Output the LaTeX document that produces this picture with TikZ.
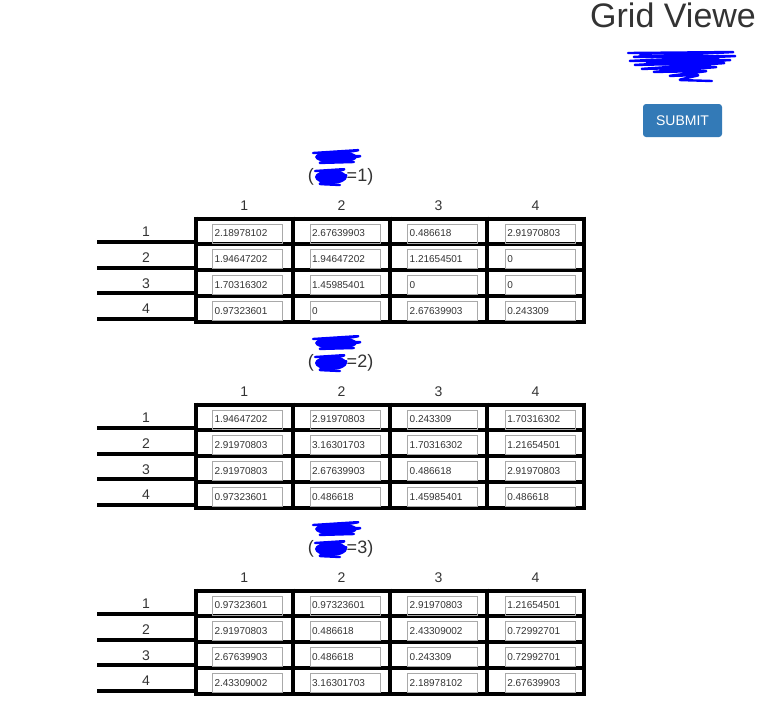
\documentclass[tikz,border=0pt]{standalone}
\usepackage{fontspec}
\setmainfont{Liberation Sans}
\usepackage{xcolor}
\usepackage{tikz}
\definecolor{txtgray}{HTML}{333333}
\definecolor{btnblue}{HTML}{337AB7}
\definecolor{boxgray}{HTML}{A9A9A9}
\tikzset{
  inbox/.style={draw=boxgray, line width=1pt, anchor=west, minimum height=19pt,
    text width=66pt, inner sep=2pt, align=left, text=txtgray,
    font=\fontsize{10}{12}\selectfont},
  lbl/.style={text=txtgray, font=\fontsize{14}{16}\selectfont},
  gridline/.style={line width=4pt},
  scrib/.style={blue, line width=2.4pt, line join=round, line cap=round, rounded corners=3pt},
}

\begin{document}
\begin{tikzpicture}[x=1pt, y=-1pt]
      \useasboundingbox (0,0) rectangle (759,702);
      \clip (0,0) rectangle (759,702);
      % page header
      \node[anchor=base west, inner sep=0, text=txtgray, font=\fontsize{34}{40}\selectfont] (head) at (590,27) {Grid Viewe};
      \draw[scrib] (628,53) -- (735,52) -- (632,57) -- (737,56) -- (628,61) -- (732,60) -- (633,65) -- (726,63)
        -- (640,69) -- (718,67) -- (652,72) -- (708,71) -- (668,76) -- (700,75) -- (678,80) -- (712,81) ;
      \draw[scrib] (640,55) -- (720,58) -- (645,63) -- (712,66) -- (660,70) ;
      \node[fill=btnblue, rounded corners=3pt, text=white, minimum width=79pt, minimum height=33pt, inner sep=0, font=\fontsize{14}{16}\selectfont] (submit) at (682.5,120.5) {SUBMIT};
      % one block per table
      \foreach \b in {0,1,2} {
        \pgfmathtruncatemacro\n{\b+1}
        \begin{scope}[shift={(0,186*\b)}]
          \fill[blue] (336,157) ellipse (21pt and 6pt);
          \draw[scrib] (313,153) -- (360,150) -- (316,157) -- (362,156) -- (318,163) -- (354,162) ;
          \node[text=txtgray, font=\fontsize{18}{20}\selectfont] (cap\b) at (340.5,177) {(\hspace{33pt}=\n)};
          \fill[blue] (331,177) ellipse (16pt and 7pt);
          \draw[scrib] (315,171) -- (346,169) -- (316,177) -- (348,175) -- (318,184) -- (340,185) ;
          \foreach \c in {1,...,4}
            \node[lbl] (col\b-\c) at ({244.3+97.1*(\c-1)},206) {\c};
          \foreach \r in {1,...,4} {
            \node[lbl] (row\b-\r) at (146,{232+25.7*(\r-1)}) {\r};
            \draw[gridline] (97,{242+25.7*(\r-1)}) -- (196,{242+25.7*(\r-1)}) ;
          }
          \foreach \k in {0,...,4} {
            \draw[gridline] ({196+97.05*\k},216.5) -- ({196+97.05*\k},323.5) ;
            \draw[gridline] (194,{218.5+25.75*\k}) -- (586.2,{218.5+25.75*\k}) ;
          }
        \end{scope}
      }
      % values in the input boxes
      \foreach \b/\r/\va/\vb/\vc/\vd in {
          0/1/2.18978102/2.67639903/0.486618/2.91970803,
          0/2/1.94647202/1.94647202/1.21654501/0,
          0/3/1.70316302/1.45985401/0/0,
          0/4/0.97323601/0/2.67639903/0.243309,
          1/1/1.94647202/2.91970803/0.243309/1.70316302,
          1/2/2.91970803/3.16301703/1.70316302/1.21654501,
          1/3/2.91970803/2.67639903/0.486618/2.91970803,
          1/4/0.97323601/0.486618/1.45985401/0.486618,
          2/1/0.97323601/0.97323601/2.91970803/1.21654501,
          2/2/2.91970803/0.486618/2.43309002/0.72992701,
          2/3/2.67639903/0.486618/0.243309/0.72992701,
          2/4/2.43309002/3.16301703/2.18978102/2.67639903} {
        \foreach \c/\v in {1/\va,2/\vb,3/\vc,4/\vd}
          \node[inbox] (in\b-\r-\c) at ({212+97.6*(\c-1)},{233.5+25.8*(\r-1)+186*\b}) {\v};
      }
\end{tikzpicture}
\end{document}
